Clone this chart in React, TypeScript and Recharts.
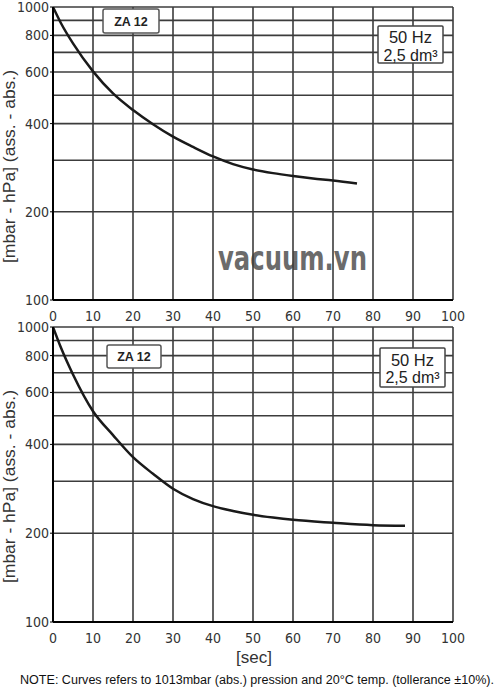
import { LineChart, Line, XAxis, YAxis, CartesianGrid } from 'recharts'

// x axis: seconds, y axis: pressure in mbar (log scale)
const SEC_TICKS = [0, 10, 20, 30, 40, 50, 60, 70, 80, 90, 100]
const MBAR_TICKS = [100, 200, 400, 600, 800, 1000]
const MBAR_GRID = [100, 200, 300, 400, 500, 600, 700, 800, 900, 1000]

// upper curve (ZA 12, first plate)
const topSec = [0, 2, 5, 10, 15, 20, 25, 30, 35, 40, 45, 50, 55, 60, 65, 70, 76]
const topMbar = [1000, 880, 751, 603, 507, 445, 398, 361, 333, 309, 291, 279, 271, 265, 260, 256, 250]

// lower curve (ZA 12, second plate)
const bottomSec = [0, 2, 5, 10, 15, 20, 25, 30, 35, 40, 45, 50, 55, 60, 70, 80, 88]
const bottomMbar = [1000, 850, 690, 518, 430, 362, 318, 283, 261, 247, 238, 231, 226, 222, 217, 213, 212]

const INK = '#1a1a1a'
const GRID = '#3c3c3c'
const TICK_FONT = '"Liberation Sans Narrow", "DejaVu Sans Condensed", sans-serif'
const TEXT_FONT = '"Liberation Sans", Arial, sans-serif'

const toRows = (sec: number[], mbar: number[]) => sec.map((s, i) => ({ sec: s, mbar: mbar[i] }))

function PumpDownChart({ sec, mbar, top, height, bottom }: { sec: number[]; mbar: number[]; top: number; height: number; bottom: number }) {
  const data = toRows(sec, mbar)
  return (
    <div style={{ position: 'absolute', left: 0, top, width: 500, height }}>
      <LineChart width={500} height={height} data={data} margin={{ top: 7, right: 47, bottom, left: 8 }}>
        <CartesianGrid stroke={GRID} strokeWidth={1.6} horizontalValues={MBAR_GRID} verticalValues={SEC_TICKS} />
        <XAxis
          dataKey="sec"
          type="number"
          domain={[0, 100]}
          ticks={SEC_TICKS}
          height={25}
          tickLine={false}
          tickMargin={5}
          axisLine={{ stroke: '#000', strokeWidth: 2 }}
          tick={{ fontSize: 14, fill: '#333', fontFamily: TICK_FONT }}
          interval={0}
        />
        <YAxis
          type="number"
          scale="log"
          domain={[100, 1000]}
          allowDataOverflow
          ticks={MBAR_TICKS}
          width={45}
          tickSize={3}
          tickMargin={1}
          tickLine={{ stroke: '#000' }}
          axisLine={{ stroke: '#000', strokeWidth: 2 }}
          tick={{ fontSize: 14, fill: '#333', fontFamily: TICK_FONT }}
          interval={0}
        />
        <Line dataKey="mbar" type="monotone" stroke={INK} strokeWidth={2.5} dot={false} isAnimationActive={false} />
      </LineChart>
    </div>
  )
}

function ModelTag({ x, y, w, h }: { x: number; y: number; w: number; h: number }) {
  return (
    <g>
      <rect x={x} y={y} width={w} height={h} rx={2} fill="#fff" stroke="#555" strokeWidth={1.5} />
      <text x={x + w / 2} y={y + h / 2 + 4.5} textAnchor="middle" fontSize={12.5} fontWeight="bold" fill="#222" fontFamily={TEXT_FONT}>
        ZA 12
      </text>
    </g>
  )
}

function SpecTag({ x, y, w, h, line1, line2 }: { x: number; y: number; w: number; h: number; line1: number; line2: number }) {
  return (
    <g>
      <rect x={x} y={y} width={w} height={h} rx={1} fill="#fff" stroke="#444" strokeWidth={1.5} />
      <text x={x + w / 2} y={y + line1} textAnchor="middle" fontSize={16.5} fill="#222" fontFamily={TEXT_FONT}>
        50 Hz
      </text>
      <text x={x + w / 2} y={y + line2} textAnchor="middle" fontSize={16} fill="#222" fontFamily={TEXT_FONT}>
        2,5 dm³
      </text>
    </g>
  )
}

export default function App() {
  const yLabel = '[mbar - hPa] (ass. - abs.)'
  return (
    <div style={{ position: 'absolute', left: 0, top: 0, width: 500, height: 690, background: '#fff', fontFamily: TEXT_FONT }}>
      {/* watermark sits under the grid */}
      <svg width={500} height={690} style={{ position: 'absolute', left: 0, top: 0 }}>
        <text x={218} y={270} fontSize={34} fontWeight="bold" fill="#6b6b6b" fontFamily={TICK_FONT} textLength={149} lengthAdjust="spacingAndGlyphs">
          vacuum.vn
        </text>
      </svg>

      <PumpDownChart sec={topSec} mbar={topMbar} top={0} height={330} bottom={5} />
      <PumpDownChart sec={bottomSec} mbar={bottomMbar} top={320} height={330} bottom={3} />

      <svg width={500} height={690} style={{ position: 'absolute', left: 0, top: 0, pointerEvents: 'none' }}>
        <ModelTag x={103} y={9} w={56} h={24} />
        <SpecTag x={378} y={26} w={65} h={37} line1={17} line2={35} />
        <ModelTag x={107} y={345} w={54} h={23} />
        <SpecTag x={380} y={348} w={65} h={39} line1={18} line2={35} />

        <text transform="translate(15,263) rotate(-90)" fontSize={16} fill="#333" fontFamily={TEXT_FONT} textLength={193} lengthAdjust="spacingAndGlyphs">
          {yLabel}
        </text>
        <text transform="translate(15,583) rotate(-90)" fontSize={16} fill="#333" fontFamily={TEXT_FONT} textLength={193} lengthAdjust="spacingAndGlyphs">
          {yLabel}
        </text>

        <text x={254} y={663} textAnchor="middle" fontSize={17} fill="#333" fontFamily={TEXT_FONT}>
          [sec]
        </text>
        <text x={20} y={684} fontSize={12.5} fill="#111" fontFamily={TEXT_FONT} textLength={474} lengthAdjust="spacingAndGlyphs">
          NOTE: Curves refers to 1013mbar (abs.) pression and 20°C temp. (tollerance ±10%).
        </text>
      </svg>
    </div>
  )
}
